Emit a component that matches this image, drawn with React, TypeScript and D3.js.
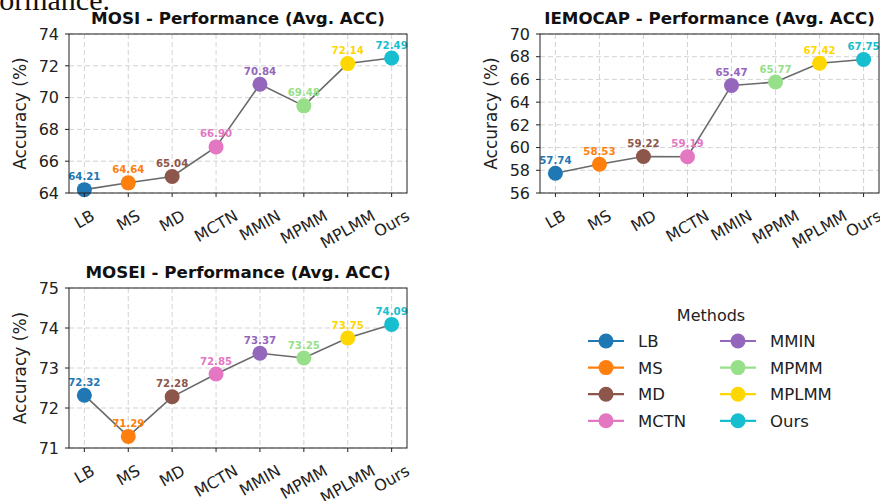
import React, { useEffect, useRef } from "react";
import * as d3 from "d3";

const methods = ["LB", "MS", "MD", "MCTN", "MMIN", "MPMM", "MPLMM", "Ours"];
const methodColors = ["#1f77b4", "#ff7f0e", "#8c564b", "#e377c2", "#9467bd", "#98df8a", "#ffd700", "#17becf"];

const mosiAcc = [64.21, 64.64, 65.04, 66.9, 70.84, 69.48, 72.14, 72.49];
const iemocapAcc = [57.74, 58.53, 59.22, 59.19, 65.47, 65.77, 67.42, 67.75];
const moseiAcc = [72.32, 71.29, 72.28, 72.85, 73.37, 73.25, 73.75, 74.09];

const mosiTicks = [64, 66, 68, 70, 72, 74];
const iemocapTicks = [56, 58, 60, 62, 64, 66, 68, 70];
const moseiTicks = [71, 72, 73, 74, 75];

const FONT = "DejaVu Sans, sans-serif";

export default function App() {
  const ref = useRef<SVGSVGElement>(null);

  useEffect(() => {
    const svg = d3.select(ref.current);
    svg.selectAll("*").remove();
    svg.append("rect").attr("width", 880).attr("height", 501).attr("fill", "#fff");

    // cut-off caption text from the page above
    svg.append("text")
      .attr("x", 110).attr("y", 10)
      .attr("text-anchor", "end")
      .attr("font-family", "Liberation Serif, serif")
      .attr("font-size", 30)
      .attr("fill", "#111")
      .text("formance.");

    const panels = [
      { title: "MOSI - Performance (Avg. ACC)", data: mosiAcc, ticks: mosiTicks, l: 69, r: 407, t: 34, b: 193 },
      { title: "IEMOCAP - Performance (Avg. ACC)", data: iemocapAcc, ticks: iemocapTicks, l: 540, r: 879, t: 34, b: 193 },
      { title: "MOSEI - Performance (Avg. ACC)", data: moseiAcc, ticks: moseiTicks, l: 69, r: 407, t: 288, b: 448 },
    ];

    panels.forEach((p) => {
      const g = svg.append("g");
      const x = d3.scalePoint<string>().domain(methods).range([p.l, p.r]).padding(0.35);
      const y = d3.scaleLinear().domain([p.ticks[0], p.ticks[p.ticks.length - 1]]).range([p.b, p.t]);

      // grid
      g.selectAll(".vg").data(methods).enter().append("line")
        .attr("x1", (d) => x(d)!).attr("x2", (d) => x(d)!)
        .attr("y1", p.t).attr("y2", p.b)
        .attr("stroke", "#c8c8c8").attr("stroke-width", 0.8).attr("stroke-dasharray", "5,3");
      g.selectAll(".hg").data(p.ticks).enter().append("line")
        .attr("x1", p.l).attr("x2", p.r)
        .attr("y1", (d) => y(d)).attr("y2", (d) => y(d))
        .attr("stroke", "#c8c8c8").attr("stroke-width", 0.8).attr("stroke-dasharray", "5,3");

      // connecting line
      const line = d3.line<number>().x((_, i) => x(methods[i])!).y((d) => y(d));
      g.append("path").attr("d", line(p.data)!).attr("fill", "none")
        .attr("stroke", "#6a6a6a").attr("stroke-width", 1.6);

      // markers
      g.selectAll(".pt").data(p.data).enter().append("circle")
        .attr("cx", (_, i) => x(methods[i])!).attr("cy", (d) => y(d))
        .attr("r", 7.5).attr("fill", (_, i) => methodColors[i]);

      // value labels
      g.selectAll(".vl").data(p.data).enter().append("text")
        .attr("x", (_, i) => x(methods[i])!).attr("y", (d) => y(d) - 9.5)
        .attr("text-anchor", "middle")
        .attr("font-family", FONT).attr("font-size", 10.2).attr("font-weight", "bold")
        .attr("fill", (_, i) => methodColors[i])
        .text((d) => d.toFixed(2));

      // frame
      g.append("rect").attr("x", p.l).attr("y", p.t).attr("width", p.r - p.l).attr("height", p.b - p.t)
        .attr("fill", "none").attr("stroke", "#222").attr("stroke-width", 1);

      // y ticks
      p.ticks.forEach((tv) => {
        g.append("line").attr("x1", p.l - 4).attr("x2", p.l).attr("y1", y(tv)).attr("y2", y(tv))
          .attr("stroke", "#222").attr("stroke-width", 1);
        g.append("text").attr("x", p.l - 10).attr("y", y(tv)).attr("dy", "0.36em")
          .attr("text-anchor", "end").attr("font-family", FONT).attr("font-size", 16).attr("fill", "#222")
          .text(String(tv));
      });

      // x ticks
      methods.forEach((m) => {
        const xv = x(m)!;
        g.append("line").attr("x1", xv).attr("x2", xv).attr("y1", p.b).attr("y2", p.b + 4)
          .attr("stroke", "#222").attr("stroke-width", 1);
        const t = g.append("text")
          .attr("text-anchor", "middle").attr("dominant-baseline", "central")
          .attr("font-family", FONT).attr("font-size", 16).attr("fill", "#222")
          .text(m);
        const w = (t.node() as SVGTextElement).getComputedTextLength();
        const h = 16 * 1.05;
        const bh = w * Math.sin(Math.PI / 6) + h * Math.cos(Math.PI / 6);
        const cy = p.b + 14 + bh / 2;
        t.attr("transform", `translate(${xv},${cy}) rotate(-30)`);
      });

      // y label
      g.append("text")
        .attr("transform", `translate(${p.l - 49},${(p.t + p.b) / 2}) rotate(-90)`)
        .attr("text-anchor", "middle").attr("dominant-baseline", "central")
        .attr("font-family", FONT).attr("font-size", 17).attr("fill", "#222")
        .text("Accuracy (%)");

      // title
      g.append("text")
        .attr("x", (p.l + p.r) / 2).attr("y", p.t - 10)
        .attr("text-anchor", "middle")
        .attr("font-family", FONT).attr("font-size", 16.7).attr("font-weight", "bold").attr("fill", "#111")
        .text(p.title);
    });

    // legend
    const lg = svg.append("g");
    lg.append("text").attr("x", 711).attr("y", 321).attr("text-anchor", "middle")
      .attr("font-family", FONT).attr("font-size", 16).attr("fill", "#222").text("Methods");
    methods.forEach((m, i) => {
      const col = Math.floor(i / 4);
      const row = i % 4;
      const x0 = col === 0 ? 588 : 720;
      const cy = 341 + row * 26.6;
      lg.append("line").attr("x1", x0).attr("x2", x0 + 36).attr("y1", cy).attr("y2", cy)
        .attr("stroke", methodColors[i]).attr("stroke-width", 2.2);
      lg.append("circle").attr("cx", x0 + 18).attr("cy", cy).attr("r", 7.5).attr("fill", methodColors[i]);
      lg.append("text").attr("x", x0 + 50).attr("y", cy).attr("dy", "0.36em")
        .attr("font-family", FONT).attr("font-size", 16.5).attr("fill", "#222").text(m);
    });
  }, []);

  return (
    <div style={{ position: "absolute", left: 0, top: 0 }}>
      <svg ref={ref} width={880} height={501} style={{ display: "block" }} />
    </div>
  );
}
